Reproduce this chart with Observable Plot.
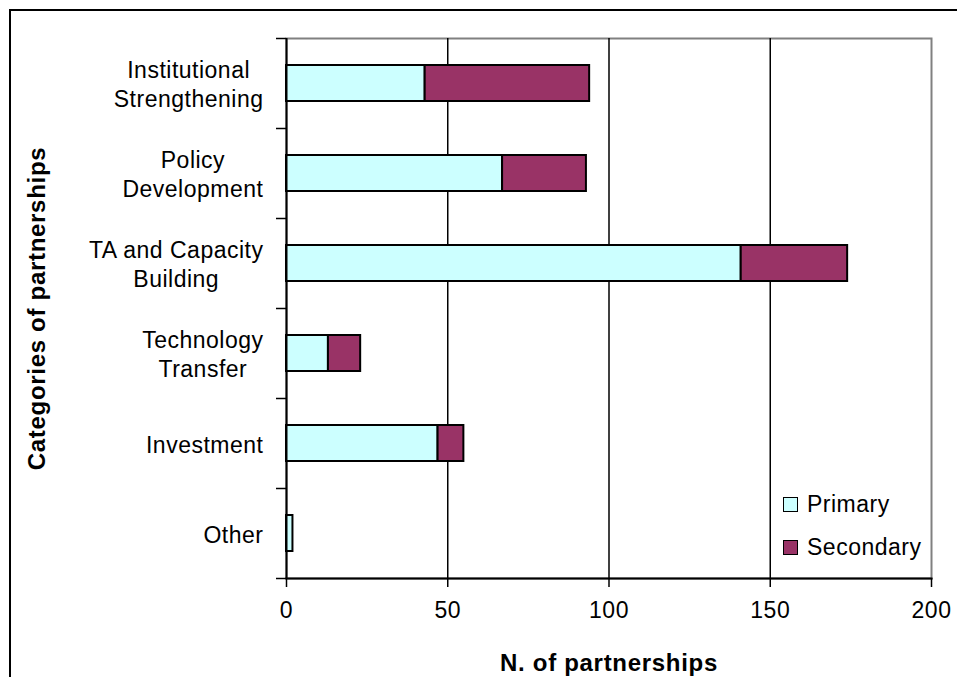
<!DOCTYPE html>
<html>
<head>
<meta charset="utf-8">
<script src="https://cdn.jsdelivr.net/npm/d3@7"></script>
<script src="https://cdn.jsdelivr.net/npm/@observablehq/plot@0.6"></script>
<style>
  html, body { margin: 0; padding: 0; background: #fff; }
  #wrap { position: relative; width: 957px; height: 677px; overflow: hidden; }
  #frame { position: absolute; left: 9px; top: 9px; width: 1000px; height: 1000px; border: 2px solid #000; box-sizing: border-box; pointer-events: none; }
  #legend { position: absolute; left: 783px; top: 483px; font-family: "Liberation Sans", Arial, sans-serif; font-size: 23px; letter-spacing: 0.5px; color: #000; }
  #legend .row { display: flex; align-items: center; height: 43px; }
  #legend .sw { width: 13px; height: 13px; border: 1.5px solid #000; margin-right: 9px; }
  #chart svg g[aria-label="y-axis tick label"] text,
  #chart svg g[aria-label="x-axis tick label"] text { letter-spacing: 0.5px; }
  #chart svg g[aria-label="x-axis label"] text,
  #chart svg g[aria-label="y-axis label"] text { letter-spacing: 0.7px; }
</style>
</head>
<body>
<div id="wrap">
  <div id="chart"></div>
  <div id="frame"></div>
  <div id="legend"></div>
</div>
<script>
const categories = ["Institutional Strengthening", "Policy Development", "TA and Capacity Building", "Technology Transfer", "Investment", "Other"];
const categoryLabels = ["Institutional\nStrengthening", "Policy\nDevelopment", "TA and Capacity\nBuilding", "Technology\nTransfer", "Investment", "Other"];
const primary = [43, 67, 141, 13, 47, 2];
const secondary = [51, 26, 33, 10, 8, 0];
const seriesNames = ["Primary", "Secondary"];
const seriesColors = ["#CCFFFF", "#993366"];
const xTicks = [0, 50, 100, 150, 200];
const gridValues = [50, 100, 150];

const rows = [];
categories.forEach((c, i) => {
  rows.push({category: c, series: seriesNames[0], value: primary[i]});
  rows.push({category: c, series: seriesNames[1], value: secondary[i]});
});

const W = 957, H = 677, mT = 38, mB = 99, mL = 286, mR = 26;
const padIn = 0.6, padOut = 0.3;
const step = (H - mT - mB) / (categories.length - padIn + 2 * padOut);
const labelOf = new Map(categories.map((c, i) => [c, categoryLabels[i]]));

const chart = Plot.plot({
  width: W, height: H,
  marginTop: mT, marginBottom: mB, marginLeft: mL, marginRight: mR,
  style: {fontFamily: "'Liberation Sans', Arial, sans-serif", fontSize: "23px", color: "#000", background: "#fff"},
  x: {domain: [0, 200]},
  y: {domain: categories, paddingInner: padIn, paddingOuter: padOut},
  color: {domain: seriesNames, range: seriesColors},
  marks: [
    Plot.frame({stroke: "#808080", strokeWidth: 2}),
    Plot.ruleX(gridValues, {stroke: "#000", strokeWidth: 1.5}),
    Plot.barX(rows, Plot.stackX({y: "category", x: "value", fill: "series", order: seriesNames, stroke: "#000", strokeWidth: 2})),
    Plot.ruleX([0], {stroke: "#000", strokeWidth: 2}),
    Plot.frame({anchor: "bottom", stroke: "#000", strokeWidth: 2}),
    // x axis ticks and labels
    Plot.axisX({ticks: xTicks, tickSize: 9, tickPadding: 14, strokeWidth: 1.5, fontSize: 23, label: null}),
    Plot.axisX({ticks: [], label: "N. of partnerships", labelAnchor: "center", labelOffset: 92, labelArrow: "none", fontWeight: "bold", fontSize: 24}),
    // y tick marks at band boundaries
    Plot.axisY({ticks: categories, tickSize: 10, tickFormat: null, dy: step / 2, strokeWidth: 1.5, label: null}),
    Plot.axisY({ticks: [categories[0]], tickSize: 10, tickFormat: null, dy: -step / 2, strokeWidth: 1.5, label: null}),
    // y labels
    Plot.axisY({ticks: categories, tickSize: 0, tickPadding: 23, tickFormat: d => labelOf.get(d), lineHeight: 1.25, fontSize: 23, label: null}),
    Plot.axisY({ticks: [], label: "Categories of partnerships", labelAnchor: "center", labelOffset: 259, labelArrow: "none", fontWeight: "bold", fontSize: 24})
  ]
});
document.getElementById("chart").appendChild(chart);

// Center the lines of each multi-line category label within its right-aligned block
chart.querySelectorAll('g[aria-label="y-axis tick label"] text').forEach(t => {
  const w = t.getBBox().width;
  t.setAttribute("text-anchor", "middle");
  const spans = t.querySelectorAll("tspan");
  if (spans.length) spans.forEach(s => s.setAttribute("x", -w / 2));
  else t.setAttribute("x", -w / 2);
});

const legend = document.getElementById("legend");
seriesNames.forEach((name, i) => {
  const row = document.createElement("div");
  row.className = "row";
  const sw = document.createElement("div");
  sw.className = "sw";
  sw.style.background = seriesColors[i];
  const lab = document.createElement("span");
  lab.textContent = name;
  row.appendChild(sw);
  row.appendChild(lab);
  legend.appendChild(row);
});
</script>
</body>
</html>
